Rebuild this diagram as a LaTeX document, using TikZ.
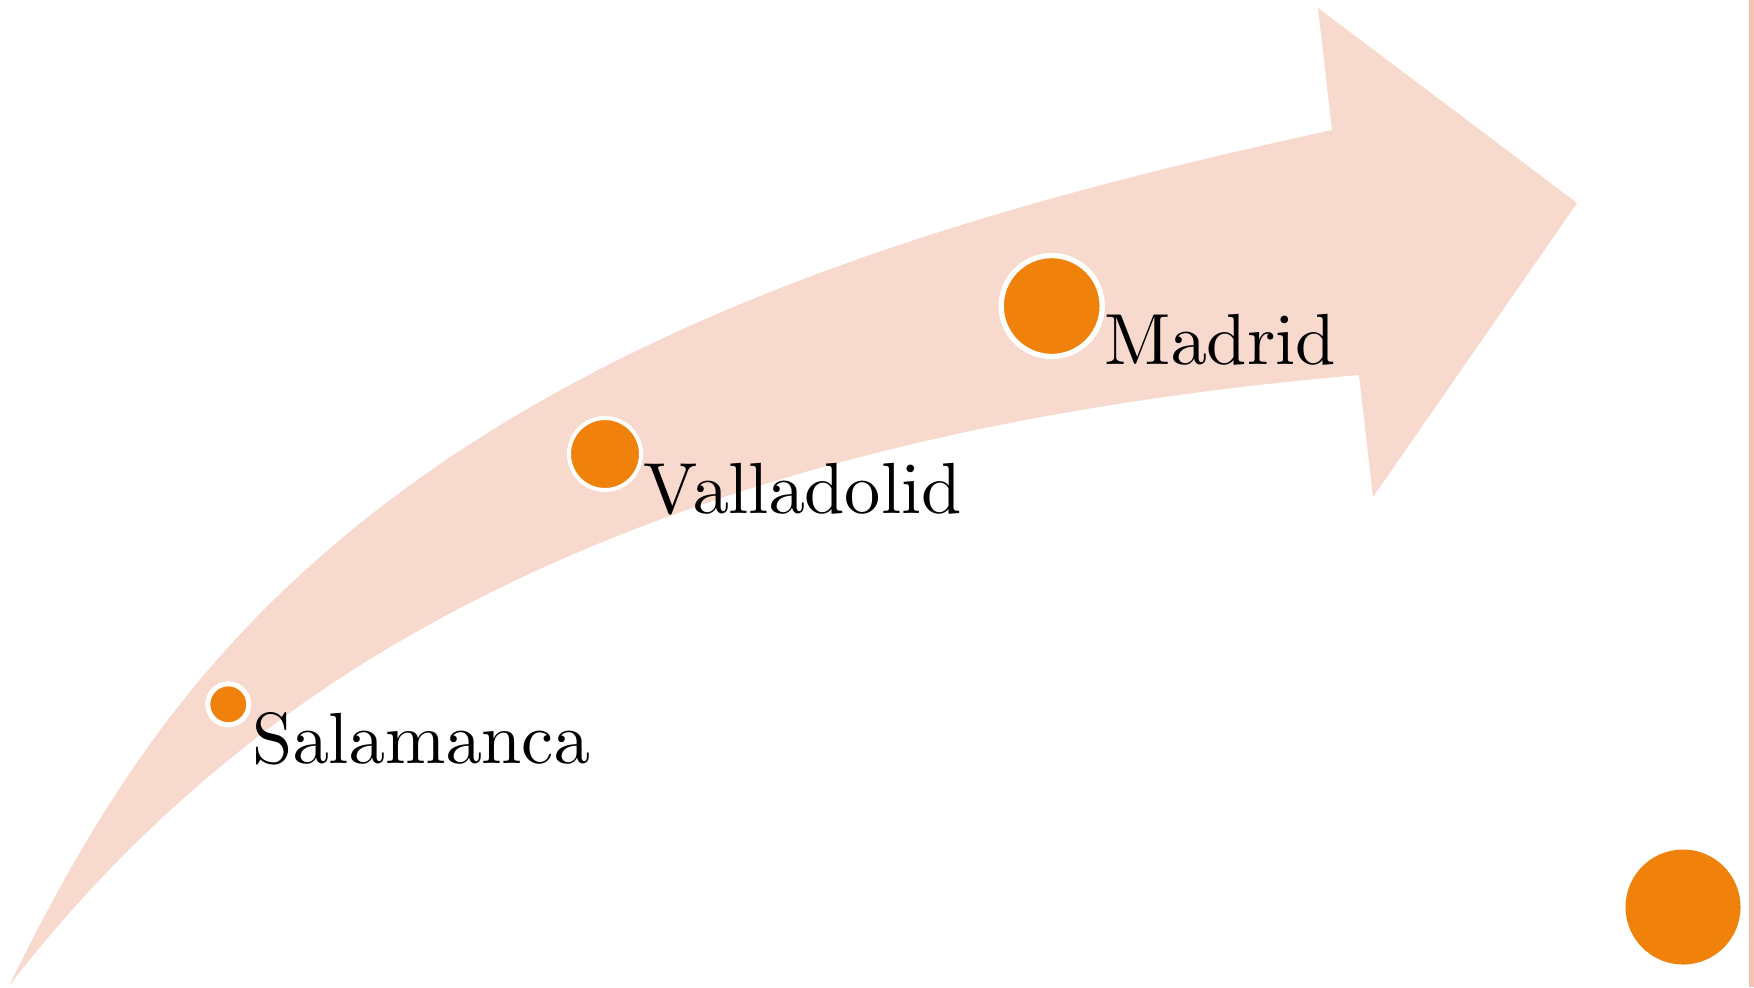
\documentclass[tikz,border=0pt]{standalone}
\usetikzlibrary{calc}
\definecolor{bandpeach}{RGB}{248,217,206}
\definecolor{dotorange}{RGB}{240,130,12}
\definecolor{edgesalmon}{RGB}{244,196,178}
\font\citytext=cmr10 at 36.2pt
\tikzset{
  band/.style={fill=bandpeach, draw=none},
  citydot/.style={circle, fill=dotorange, draw=white, inner sep=0pt},
  citylabel/.style={anchor=base west, inner sep=0pt, font=\citytext},
}
\begin{document}
\begin{tikzpicture}[x=0.5pt, y=-0.5pt]
\useasboundingbox (0,0) rectangle (1754,987);
\fill[white] (0,0) rectangle (1754,987);
% right edge strip
\fill[edgesalmon] (1749,0) rectangle (1754,987);
% curved arrow band
\fill[band]
  (9,986) .. controls (92.6,815) and (176,689) .. (300,575)
  .. controls (576,321) and (966,210) .. (1332,130)
  -- (1318,8) -- (1577,203) -- (1373,497) -- (1359,375)
  .. controls (1023,404) and (674,477) .. (385,650)
  .. controls (241,736) and (111,853) .. (9,986)
  -- cycle;
% dots
\node[citydot, minimum size=20.5pt, line width=2.5pt] (dSal) at (228.3,704.3) {};
\node[citydot, minimum size=36pt, line width=2pt] (dVal) at (605,454) {};
\node[citydot, minimum size=50.5pt, line width=2.65pt] (dMad) at (1051.7,306) {};
\node[circle, fill=dotorange, inner sep=0pt, minimum size=57.5pt] (dCorner) at (1683,907) {};
% labels
\node[citylabel] (tSal) at (252,763) {Salamanca};
\node[citylabel] (tVal) at (643.5,513) {Valladolid};
\node[citylabel] (tMad) at (1104,364) {Madrid};
\end{tikzpicture}
\end{document}
